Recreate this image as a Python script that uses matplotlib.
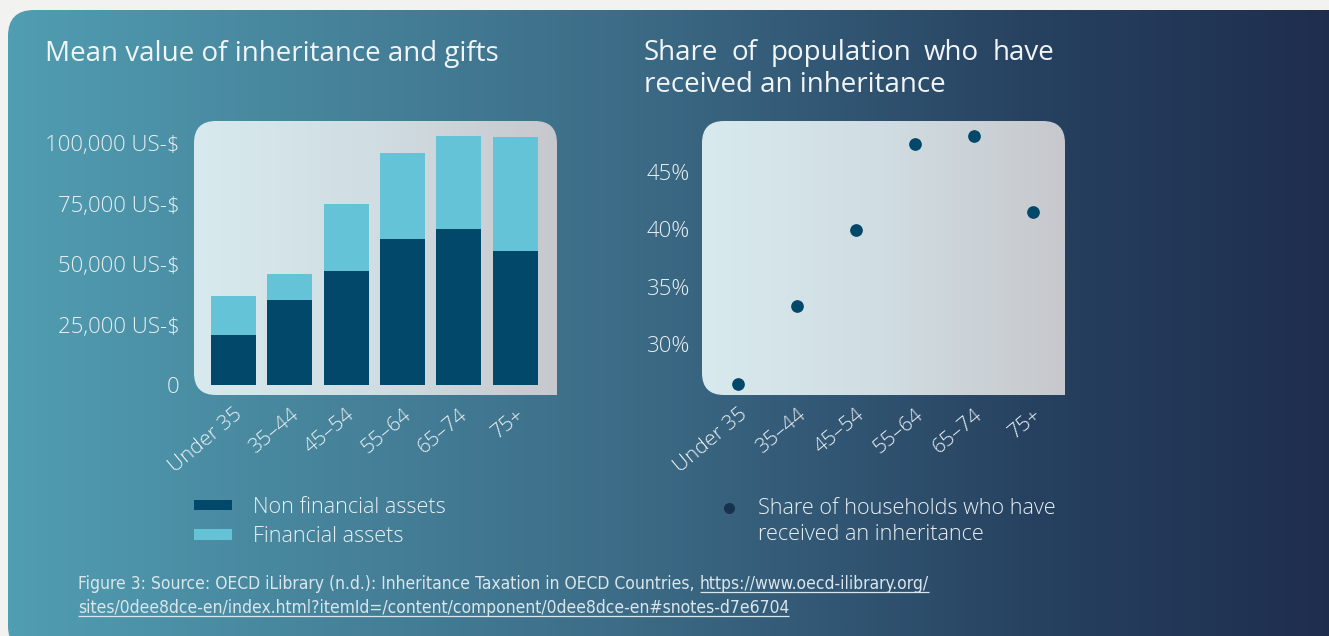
import numpy as np
import matplotlib.pyplot as plt
from matplotlib.path import Path
from matplotlib.patches import PathPatch
from matplotlib.colors import LinearSegmentedColormap
from matplotlib import font_manager

# data
ages = ["Under 35", "35–44", "45–54", "55–64", "65–74", "75+"]
non_financial = [20700, 35100, 47100, 60300, 64500, 55400]
financial = [16100, 10800, 27700, 35600, 38400, 47100]
share_inherited = [26.5, 33.3, 39.9, 47.4, 48.1, 41.5]

left_ticks = [0, 25000, 50000, 75000, 100000]
left_ticklabels = ["0", "25,000 US-$", "50,000 US-$", "75,000 US-$", "100,000 US-$"]
right_ticks = [30, 35, 40, 45]
right_ticklabels = ["30%", "35%", "40%", "45%"]

DARK = "#02486b"
LIGHT = "#65c3d7"
TXT = "#e9f0f3"

names = {f.name for f in font_manager.fontManager.ttflist}
FONT = "Open Sans" if "Open Sans" in names else "DejaVu Sans"
if "Liberation Sans Narrow" in names:
    CAP_FONT, CAP_STRETCH = "Liberation Sans Narrow", "normal"
else:
    CAP_FONT, CAP_STRETCH = "DejaVu Sans", "condensed"
plt.rcParams["font.family"] = [FONT, "DejaVu Sans"]
LIGHT_W = "light"

W, H = 1329, 636
fig = plt.figure(figsize=(W / 100, H / 100), dpi=100, facecolor="#f2f2f0")

bg = fig.add_axes([0, 0, 1, 1])
bg.axis("off")


def rounded_path(x0, y0, x1, y1, r, tl=True, tr=True, br=True, bl=True):
    v = [(x0 + (r if tl else 0), y0)]
    c = [Path.MOVETO]
    if tr:
        v += [(x1 - r, y0), (x1, y0), (x1, y0 + r)]
        c += [Path.LINETO, Path.CURVE3, Path.CURVE3]
    else:
        v.append((x1, y0)); c.append(Path.LINETO)
    if br:
        v += [(x1, y1 - r), (x1, y1), (x1 - r, y1)]
        c += [Path.LINETO, Path.CURVE3, Path.CURVE3]
    else:
        v.append((x1, y1)); c.append(Path.LINETO)
    if bl:
        v += [(x0 + r, y1), (x0, y1), (x0, y1 - r)]
        c += [Path.LINETO, Path.CURVE3, Path.CURVE3]
    else:
        v.append((x0, y1)); c.append(Path.LINETO)
    if tl:
        v += [(x0, y0 + r), (x0, y0), (x0 + r, y0)]
        c += [Path.LINETO, Path.CURVE3, Path.CURVE3]
    else:
        v.append((x0, y0)); c.append(Path.LINETO)
    v.append((0, 0)); c.append(Path.CLOSEPOLY)
    return Path(v, c)


def gradient_box(x0, y0, x1, y1, colors, r, z, **corners):
    cmap = LinearSegmentedColormap.from_list("g", colors)
    im = bg.imshow(np.linspace(0, 1, 512).reshape(1, -1), cmap=cmap,
                   extent=(x0, x1, y1, y0), aspect="auto", zorder=z,
                   interpolation="bilinear")
    patch = PathPatch(rounded_path(x0, y0, x1, y1, r, **corners),
                      facecolor="none", edgecolor="none")
    bg.add_patch(patch)
    im.set_clip_path(patch)


gradient_box(8, 10, 1400, 652, [(0, "#519db1"), (0.45, "#3c6b86"),
                                (0.75, "#26405f"), (1, "#1d2949")], 26, 0)
gradient_box(194, 121, 557, 395, ["#d8eaee", "#d0dde2", "#c7c8cd"], 22, 1, br=False)
gradient_box(702, 121, 1065, 395, ["#d8eaee", "#d0dde2", "#c7c8cd"], 22, 1, br=False)
bg.set_xlim(0, W)
bg.set_ylim(H, 0)

# titles
tkw = dict(fontsize=20, color="#f1f5f7", va="center", ha="left")
bg.text(45, 54, "Mean value of inheritance and gifts", **tkw)

fig.canvas.draw()
rend = fig.canvas.get_renderer()


def justified(words, x0, x1, y, **kw):
    objs = [bg.text(0, y, w, **kw) for w in words]
    widths = [o.get_window_extent(rend).width for o in objs]
    gap = (x1 - x0 - sum(widths)) / (len(words) - 1)
    xx = x0
    for o, w in zip(objs, widths):
        o.set_x(xx)
        xx += w + gap


justified("Share of population who have".split(), 644, 1054, 53, **tkw)
bg.text(644, 85, "received an inheritance", **tkw)

# left chart: stacked bars
ax1 = fig.add_axes([194 / W, 1 - 395 / H, 363 / W, 274 / H])
ax1.patch.set_alpha(0)
x = np.arange(len(ages))
ax1.bar(x, non_financial, width=0.8, color=DARK, label="Non financial assets", zorder=3)
ax1.bar(x, financial, width=0.8, bottom=non_financial, color=LIGHT,
        label="Financial assets", zorder=3)
ax1.set_xlim(-0.70, 5.74)
ax1.set_ylim(-4130, 109090)
ax1.set_yticks(left_ticks, left_ticklabels)

# right chart: dots
ax2 = fig.add_axes([702 / W, 1 - 395 / H, 363 / W, 274 / H])
ax2.patch.set_alpha(0)
ax2.scatter(x, share_inherited, s=66, color=DARK, zorder=3,
            label="Share of households who have")
ax2.set_xlim(-0.61, 5.55)
ax2.set_ylim(25.55, 49.44)
ax2.set_yticks(right_ticks, right_ticklabels)

for ax, ypad in ((ax1, 10.5), (ax2, 8.5)):
    for s in ax.spines.values():
        s.set_visible(False)
    ax.tick_params(length=0, labelcolor=TXT)
    ax.tick_params(axis="y", pad=ypad, labelsize=16)
    ax.tick_params(axis="x", pad=7)
    ax.set_xticks(x, ages)
    for lab in ax.get_xticklabels():
        lab.set_rotation(40)
        lab.set_ha("right")
        lab.set_va("top")
        lab.set_rotation_mode("anchor")
        lab.set_fontsize(15)
    for lab in ax.get_xticklabels() + ax.get_yticklabels():
        lab.set_fontweight(LIGHT_W)

leg1 = ax1.legend(loc="upper left", bbox_to_anchor=(194 / W, 1 - 497 / H),
                  bbox_transform=fig.transFigure, frameon=False,
                  prop=dict(size=15.6, weight=LIGHT_W),
                  handlelength=1.76, handleheight=0.37, handletextpad=0.96,
                  labelspacing=0.38, labelcolor=TXT, borderpad=0, borderaxespad=0)
leg2 = ax2.legend(loc="upper left", bbox_to_anchor=(721 / W, 1 - 498 / H),
                  bbox_transform=fig.transFigure, frameon=False,
                  prop=dict(size=15.6, weight=LIGHT_W),
                  handlelength=0.77, handletextpad=0.96, labelcolor=TXT,
                  borderpad=0, borderaxespad=0, scatterpoints=1, markerscale=0.85)
leg2.legend_handles[0].set_color("#17324f")

# second line of the dot legend, lined up under the first
fig.canvas.draw()
bb = leg2.get_texts()[0].get_window_extent(rend)
bg.text(bb.x0, H - (bb.y0 + bb.y1) / 2 + 26, "received an inheritance",
        fontsize=15.6, fontweight=LIGHT_W, color=TXT, va="center", ha="left")

# caption with underlined link
ckw = dict(fontsize=12.5, color="#d9e6ec", va="baseline", ha="left",
           family=[CAP_FONT, "DejaVu Sans"], fontstretch=CAP_STRETCH)
plain = bg.text(78, 589, "Figure 3: Source: OECD iLibrary (n.d.): Inheritance "
                "Taxation in OECD Countries,", **ckw)
pw = plain.get_window_extent(rend).width
link1 = bg.text(78 + pw + 5, 589, "https://www.oecd-ilibrary.org/", **ckw)
link2 = bg.text(78, 613, "sites/0dee8dce-en/index.html?itemId=/content/component/"
                "0dee8dce-en#snotes-d7e6704", **ckw)
for t, yb in ((link1, 589), (link2, 613)):
    tw = t.get_window_extent(rend).width
    x0 = t.get_position()[0]
    bg.plot([x0, x0 + tw], [yb + 3, yb + 3], color="#d9e6ec", lw=0.9,
            solid_capstyle="butt")
bg.set_xlim(0, W)
bg.set_ylim(H, 0)

fig.savefig("out.png", dpi=100, facecolor=fig.get_facecolor())
